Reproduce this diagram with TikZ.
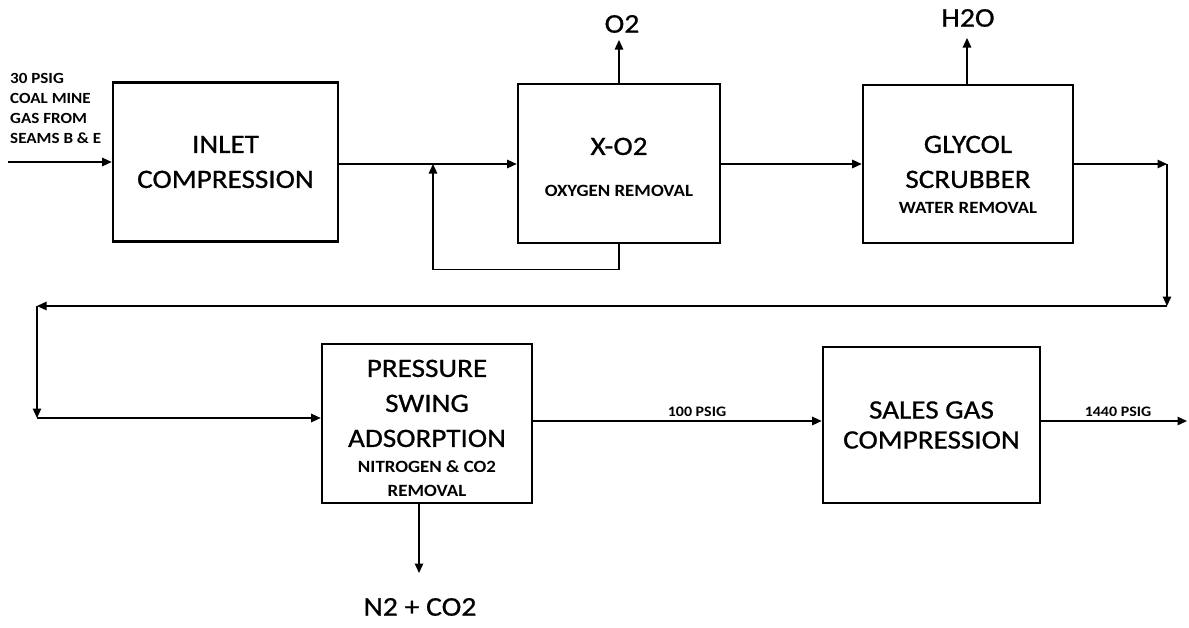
\documentclass[tikz,border=0pt]{standalone}
\usepackage{fontspec}
\setmainfont{Carlito}[FakeStretch=1.1]
\newfontfamily\heavy{Carlito}[FakeStretch=1.1,FakeBold=0.8]
\usetikzlibrary{arrows.meta}
\begin{document}
\begin{tikzpicture}[x=1pt,y=-1pt,
  box/.style={draw,line width=2.6pt,rectangle,align=center,inner sep=0pt,
    font=\heavy\fontsize{26.5}{35}\selectfont},
  flow/.style={line width=1.3pt,-{Triangle[length=9.5pt,width=8.5pt]}},
  lbl/.style={inner sep=0pt,font=\heavy\fontsize{27}{30}\selectfont},
  tag/.style={inner sep=0pt,font=\bfseries\fontsize{14.5}{16}\selectfont},
  feedtxt/.style={inner sep=0pt,align=left,font=\bfseries\fontsize{15.5}{20}\selectfont}]
\useasboundingbox (0,0) rectangle (1189,627);
\newcommand{\subt}[1]{{\normalfont\bfseries\fontsize{17.2}{18}\selectfont #1}}
\newcommand{\dn}[1]{\rule{0pt}{#1pt}}
% boxes
\node[box,minimum width=225pt,minimum height=159pt] (inlet) at (225.5,162) {INLET\\COMPRESSION};
\node[box,minimum width=202pt,minimum height=159pt] (xo2) at (619,163.5) {\dn{25}X-O2\\[7pt]\subt{OXYGEN REMOVAL}};
\node[box,minimum width=210pt,minimum height=158pt] (glycol) at (968,164) {\dn{39}GLYCOL\\SCRUBBER\\[-9pt]\subt{WATER REMOVAL}};
\node[box,minimum width=210pt,minimum height=159pt] (psa) at (427,423.5) {\dn{27}PRESSURE\\SWING\\ADSORPTION\\[-9pt]\subt{NITROGEN \& CO2}\\[-11pt]\subt{REMOVAL}};
\node[box,minimum width=217pt,minimum height=156pt] (sales) at (931.5,425) {SALES GAS\\[-5pt]COMPRESSION};
% feed
\node[feedtxt,anchor=north west] (feed) at (10,73) {30 PSIG\\COAL MINE\\GAS FROM\\SEAMS B \& E};
\coordinate (in) at (8,162);
\draw[flow] (in) -- (inlet.west |- in);
% to X-O2 with recycle
\coordinate (mix) at (433,164);
\draw[flow] (inlet.east |- mix) -- (xo2.west |- mix);
\draw[flow] (xo2.south) -- ++(0,25) -| (mix);
\coordinate (o2end) at (619,40);
\draw[flow] (xo2.north) -- (o2end);
\node[lbl] (o2) at (622,24) {O2};
% to glycol
\draw[flow] (xo2.east |- mix) -- (glycol.west |- mix);
\coordinate (h2oend) at (967,38);
\draw[flow] (glycol.north -| h2oend) -- (h2oend);
\node[lbl] (h2o) at (968,18) {H2O};
% loop back
\coordinate (r1) at (1167,164);
\coordinate (r2) at (1167,306);
\coordinate (l1) at (37,306);
\coordinate (l2) at (37,418);
\draw[flow] (glycol.east |- r1) -- (r1);
\draw[flow] (r1) -- (r2);
\draw[flow] (r2) -- (l1);
\draw[flow] (l1) -- (l2);
\draw[flow] (l2) -- (psa.west |- l2);
% PSA to sales
\coordinate (mid) at (700,421);
\draw[flow] (psa.east |- mid) -- (sales.west |- mid);
\node[tag] (p100) at (697,412) {100 PSIG};
\coordinate (out) at (1187,421);
\draw[flow] (sales.east |- out) -- (out);
\node[tag] (p1440) at (1118,412) {1440 PSIG};
% N2 + CO2
\coordinate (n2end) at (419,573);
\draw[flow] (psa.south -| n2end) -- (n2end);
\node[lbl] (n2) at (420,607) {N2 + CO2};
\end{tikzpicture}
\end{document}
